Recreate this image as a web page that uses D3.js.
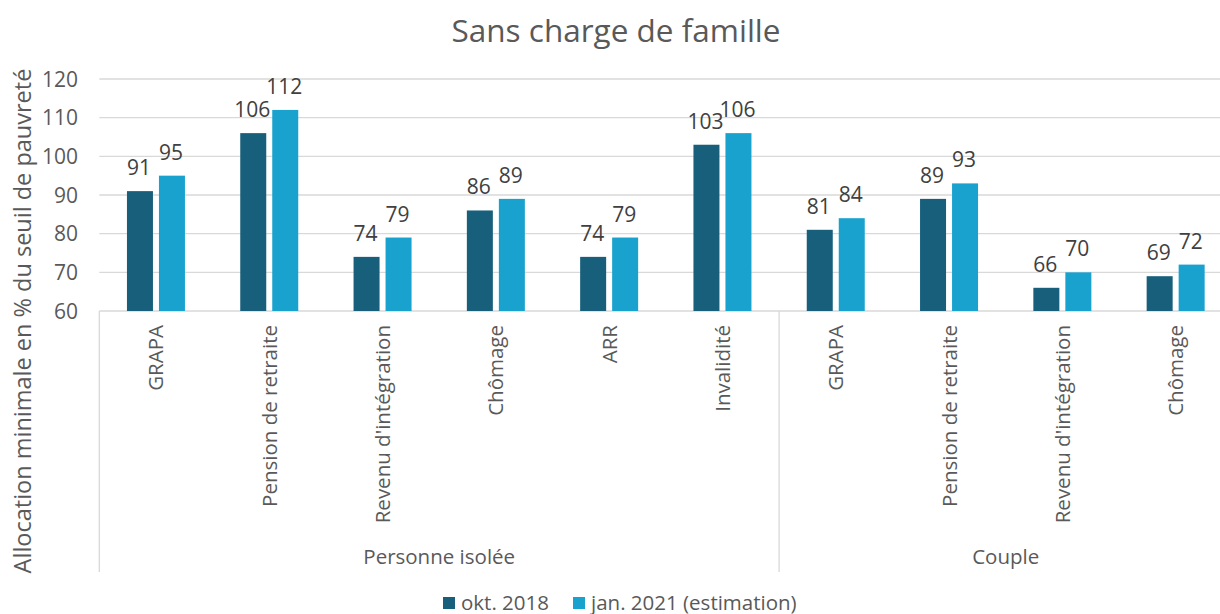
<!DOCTYPE html>
<html>
<head>
<meta charset="utf-8">
<script src="https://cdn.jsdelivr.net/npm/d3@7"></script>
<style>
  body { margin: 0; background: #fff; }
  svg { font-family: "Open Sans", "Noto Sans", sans-serif; display: block; }
</style>
</head>
<body>
<div class="chart"></div>
<script>
// data
var groups = ["Personne isolée", "Couple"];
var categories = [
  "GRAPA", "Pension de retraite", "Revenu d'intégration", "Chômage", "ARR", "Invalidité",
  "GRAPA", "Pension de retraite", "Revenu d'intégration", "Chômage"
];
var categoryGroup = [0, 0, 0, 0, 0, 0, 1, 1, 1, 1];
var seriesNames = ["okt. 2018", "jan. 2021 (estimation)"];
var okt2018 = [91, 106, 74, 86, 74, 103, 81, 89, 66, 69];
var jan2021 = [95, 112, 79, 89, 79, 106, 84, 93, 70, 72];
var yTicks = [60, 70, 80, 90, 100, 110, 120];

var width = 1220, height = 614;
var colors = ["#175f7b", "#19a2ce"];
var textCol = "#595959";

var svg = d3.select(".chart").append("svg")
  .attr("width", width)
  .attr("height", height);

// plot area (runs a bit past the right edge, like the original)
var plotLeft = 99.3, plotRight = 1232.3, plotTop = 79, plotBottom = 311;

var x0 = d3.scaleBand()
  .domain(d3.range(categories.length))
  .range([plotLeft, plotRight])
  .padding(0);

var x1 = d3.scaleBand()
  .domain([0, 1])
  .range([(x0.bandwidth() - 58) / 2, (x0.bandwidth() + 58) / 2])
  .paddingInner(0.1875);

var y = d3.scaleLinear()
  .domain([60, 120])
  .range([plotBottom, plotTop]);

// title
svg.append("text")
  .attr("x", 616).attr("y", 42)
  .attr("text-anchor", "middle")
  .attr("font-size", 31.5)
  .attr("fill", textCol)
  .text("Sans charge de famille");

// grid
svg.append("g").selectAll("line")
  .data(yTicks)
  .enter().append("line")
    .attr("x1", plotLeft).attr("x2", plotRight)
    .attr("y1", d => y(d)).attr("y2", d => y(d))
    .attr("stroke", "#d9d9d9")
    .attr("stroke-width", 1.3);

// y tick labels
svg.append("g").selectAll("text")
  .data(yTicks)
  .enter().append("text")
    .attr("x", 78)
    .attr("y", d => y(d) + 7.5)
    .attr("text-anchor", "end")
    .attr("font-size", 21)
    .attr("fill", textCol)
    .text(d => d);

// y axis title
svg.append("text")
  .attr("transform", "translate(31," + 321 + ") rotate(-90)")
  .attr("text-anchor", "middle")
  .attr("font-size", 23.5)
  .attr("fill", textCol)
  .text("Allocation minimale en % du seuil de pauvreté");

// bars
var rows = categories.map(function(c, i) { return { i: i, vals: [okt2018[i], jan2021[i]] }; });

var cat = svg.append("g").selectAll("g")
  .data(rows)
  .enter().append("g")
    .attr("transform", d => "translate(" + x0(d.i) + ",0)");

cat.selectAll("rect")
  .data(d => d.vals.map((v, k) => ({ k: k, v: v })))
  .enter().append("rect")
    .attr("x", d => x1(d.k))
    .attr("width", x1.bandwidth())
    .attr("y", d => y(d.v))
    .attr("height", d => y(60) - y(d.v))
    .attr("fill", d => colors[d.k]);

cat.selectAll(".lbl")
  .data(d => d.vals.map((v, k) => ({ k: k, v: v })))
  .enter().append("text")
    .attr("class", "lbl")
    .attr("x", d => x1(d.k) + x1.bandwidth() / 2 - 1)
    .attr("y", d => y(d.v) - 16)
    .attr("text-anchor", "middle")
    .attr("font-size", 21)
    .attr("fill", "#404040")
    .text(d => d.v);

// category labels (rotated)
svg.append("g").selectAll("text")
  .data(rows)
  .enter().append("text")
    .attr("transform", d => "translate(" + (x0(d.i) + x0.bandwidth() / 2 + 7.5) + ",325) rotate(-90)")
    .attr("text-anchor", "end")
    .attr("font-size", 20.5)
    .attr("fill", textCol)
    .text(d => categories[d.i]);

// group separators
var groupEdges = [0, 6, 10];
svg.append("g").selectAll("line")
  .data(groupEdges.slice(0, 2))
  .enter().append("line")
    .attr("x1", d => x0(d)).attr("x2", d => x0(d))
    .attr("y1", plotBottom).attr("y2", 572)
    .attr("stroke", "#d9d9d9")
    .attr("stroke-width", 1.3);

svg.append("g").selectAll("text")
  .data(groups)
  .enter().append("text")
    .attr("x", (d, g) => {
      var a = x0(groupEdges[g]);
      var b = groupEdges[g + 1] < categories.length ? x0(groupEdges[g + 1]) : plotRight;
      return (a + b) / 2;
    })
    .attr("y", 564)
    .attr("text-anchor", "middle")
    .attr("font-size", 20.5)
    .attr("fill", textCol)
    .text(d => d);

// legend
var legendX = [443, 573];
var leg = svg.append("g").selectAll("g")
  .data(seriesNames)
  .enter().append("g")
    .attr("transform", (d, i) => "translate(" + legendX[i] + ",597)");
leg.append("rect")
  .attr("width", 12).attr("height", 12)
  .attr("fill", (d, i) => colors[i]);
leg.append("text")
  .attr("x", 18).attr("y", 12.5)
  .attr("font-size", 20.5)
  .attr("fill", textCol)
  .text(d => d);
</script>
</body>
</html>
